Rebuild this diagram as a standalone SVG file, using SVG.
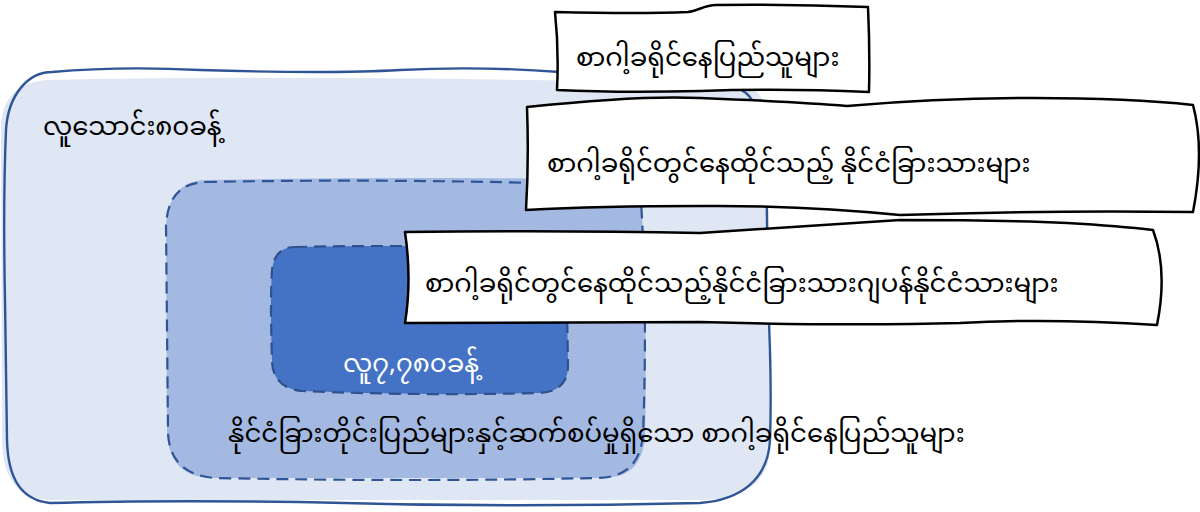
<svg xmlns="http://www.w3.org/2000/svg" width="1200" height="512" viewBox="0 0 1200 512">
<style>
.t{font-family:"Noto Sans Myanmar","Padauk","Myanmar Text","Noto Sans",sans-serif;font-size:26px;fill:#000}
.w{fill:#fff}
.frame{fill:none;stroke:#2f5597;stroke-width:2.4}
.dash{fill:none;stroke:#2f5597;stroke-width:2.2;stroke-dasharray:12 7}
.box{fill:#fff;stroke:#000;stroke-width:2.5;stroke-linejoin:round}
</style>
<rect width="1200" height="512" fill="#fff"/>
<g id="outer">
<path d="M48,80 Q300,74 740,84 C765,90 770,110 768,140 L770,450 C768,485 740,500 700,500 L48,500 C20,498 2,480 2,440 L1,125 C3,95 20,82 48,80 Z" fill="#dfe6f4"/>
<path class="frame" d="M52,72 Q120,66 200,70 Q330,74 400,70 Q480,66 560,72 C700,70 740,80 752,100 Q762,115 766,140 L768,300 Q772,380 770,440 C768,480 740,500 700,503 Q500,508 300,502 Q150,500 50,503 C22,500 8,480 7,440 L5,300 Q3,200 6,130 C8,95 28,72 52,72 Z"/>
<text class="t" x="43" y="135">လူသောင်း၈၀ခန့်</text>
</g>
<g id="middle">
<path d="M205,180 Q420,176 640,180 Q648,300 645,440 C640,470 625,478 600,478 L210,478 C180,476 168,460 167,430 L166,225 C168,195 182,181 205,180 Z" fill="#a3b9e1"/>
<path class="dash" d="M205,182 Q420,178 640,186 Q648,300 643,435 C640,465 625,478 595,478 Q420,482 215,478 C185,476 168,460 168,430 L166,225 C168,195 182,183 205,182 Z"/>
<text class="t" x="228" y="442">နိုင်ငံခြားတိုင်းပြည်များနှင့်ဆက်စပ်မှုရှိသော စာဂါ့ခရိုင်နေပြည်သူများ</text>
</g>
<g id="inner">
<path d="M295,247 Q430,244 566,250 L568,365 C568,385 556,393 536,393 Q420,396 302,391 C282,389 272,378 272,360 Q270,300 272,270 C274,254 282,247 295,247 Z" fill="#4472c4"/>
<path class="dash" style="stroke:#2f528f" d="M295,247 Q430,244 566,250 L568,365 C568,385 556,393 536,393 Q420,396 302,391 C282,389 272,378 272,360 Q270,300 272,270 C274,254 282,247 295,247 Z"/>
<text class="t w" x="343" y="372">လူ၇,၇၈၀ခန့်</text>
</g>
<g id="box1">
<path class="box" d="M555,12 Q640,14 688,12 C698,11 704,5 716,5 Q790,4 868,7 Q870,50 869,92 Q780,88 700,91 Q620,93 557,90 Q559,50 555,12 Z"/>
<text class="t" x="576" y="66">စာဂါ့ခရိုင်နေပြည်သူများ</text>
</g>
<g id="box2">
<path class="box" d="M527,107 Q640,95 700,98 Q800,102 847,106 Q940,98 1033,98 Q1130,98 1193,105 Q1205,150 1193,212 Q1050,210 900,215 Q800,205 700,206 Q600,206 526,210 Q529,160 527,107 Z"/>
<text class="t" x="547" y="172">စာဂါ့ခရိုင်တွင်နေထိုင်သည့် နိုင်ငံခြားသားများ</text>
</g>
<g id="box3">
<path class="box" d="M405,232 Q560,230 700,233 Q773,228 900,220 Q1000,220 1067,223 Q1120,226 1153,230 Q1168,270 1157,325 Q1050,318 960,323 Q850,326 700,322 Q560,322 405,323 Q412,280 405,232 Z"/>
<text class="t" x="425" y="292">စာဂါ့ခရိုင်တွင်နေထိုင်သည့်နိုင်ငံခြားသားဂျပန်နိုင်ငံသားများ</text>
</g>
</svg>
